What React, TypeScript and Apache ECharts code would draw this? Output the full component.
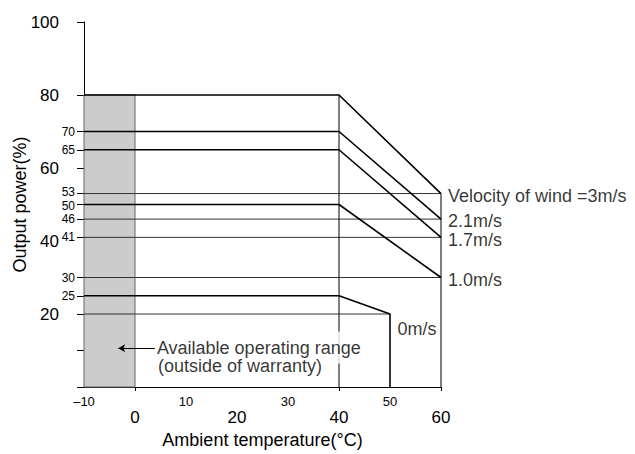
import React, { useEffect, useRef } from "react";
import * as echarts from "echarts";

// ---- data ----
const windLabels = ["Velocity of wind =3m/s", "2.1m/s", "1.7m/s", "1.0m/s", "0m/s"];
const flatPower = [80, 70, 65, 50, 25]; // output held up to the knee temperature
const endPower = [53, 46, 41, 30, 20]; // output at the end temperature
const endTemp = [60, 60, 60, 60, 50];
const kneeTemp = 40;
const minTemp = -10;
const warrantyStart = 0;
const zeroWindDrop = 0; // 0m/s curve falls to 0 at its end temperature

const yBigLabels = [100, 80, 60, 40, 20];
const ySmallLabels = [70, 65, 53, 50, 46, 41, 30, 25];
const yTicks = [100, 80, 70, 65, 60, 53, 50, 46, 41, 30, 25, 20, 10, 0];
const xBigLabels = [0, 20, 40, 60];
const xSmallLabels = [-10, 10, 30, 50];
const xTicks = [0, 40, 60];

const annotationLine1 = "Available operating range";
const annotationLine2 = "(outside of warranty)";
const annotationPos1: [number, number] = [3.9, 10.8];
const annotationPos2: [number, number] = [4.5, 5.8];
const arrowFrom: [number, number] = [3.9, 10.6];
const arrowTo: [number, number] = [-3.3, 10.6];
const zeroLabelPos: [number, number] = [55.3, 16.0];

const FONT = "'Liberation Sans', Arial, Helvetica, sans-serif";

export default function App() {
  const ref = useRef<HTMLDivElement>(null);

  useEffect(() => {
    if (!ref.current) return;
    const chart = echarts.init(ref.current, undefined, { renderer: "svg" });

    const black = "#000";
    const lineSeries: any[] = [];

    // grey band (outside of warranty)
    lineSeries.push({
      type: "line",
      data: [],
      z: 1,
      silent: true,
      markArea: {
        silent: true,
        itemStyle: { color: "#cccccc", borderColor: "#666", borderWidth: 1 },
        data: [[{ coord: [minTemp, 0] }, { coord: [warrantyStart, flatPower[0]] }]],
      },
    });

    // thin horizontal reference lines at end levels
    endPower.forEach((p, i) => {
      lineSeries.push({
        type: "line",
        z: 2,
        silent: true,
        showSymbol: false,
        symbol: "none",
        lineStyle: { color: "#333", width: 1 },
        data: [
          [minTemp, p],
          [endTemp[i], p],
        ],
      });
    });

    // vertical reference lines
    lineSeries.push({
      type: "line",
      z: 2,
      silent: true,
      symbol: "none",
      lineStyle: { color: black, width: 1 },
      data: [
        [kneeTemp, 0],
        [kneeTemp, flatPower[0]],
      ],
    });
    lineSeries.push({
      type: "line",
      z: 2,
      silent: true,
      symbol: "none",
      lineStyle: { color: black, width: 1 },
      data: [
        [endTemp[0], 0],
        [endTemp[0], endPower[0]],
      ],
    });

    // derating curves
    flatPower.forEach((p, i) => {
      const pts: number[][] = [
        [minTemp, p],
        [kneeTemp, p],
        [endTemp[i], endPower[i]],
      ];
      if (i === flatPower.length - 1) pts.push([endTemp[i], zeroWindDrop]);
      lineSeries.push({
        type: "line",
        name: windLabels[i],
        z: 3,
        silent: true,
        symbol: "none",
        lineStyle: { color: black, width: 1.6 },
        data: pts,
      });
    });

    // arrow
    lineSeries.push({
      type: "line",
      data: [],
      z: 4,
      silent: true,
      markLine: {
        silent: true,
        symbol: ["none", "arrow"],
        symbolSize: [6, 7],
        lineStyle: { color: black, width: 1, type: "solid" },
        label: { show: false },
        data: [[{ coord: arrowFrom }, { coord: arrowTo }]],
      },
    });

    const textStyleBase = { color: black, fontFamily: FONT, fontSize: 18 };

    // text labels anchored at data coordinates
    const labelData: any[] = [];
    for (let i = 0; i < 4; i++) {
      labelData.push({
        value: [endTemp[i], endPower[i]],
        label: {
          show: true,
          position: "right",
          distance: 7,
          offset: [0, i === 2 ? 3 : 2],
          formatter: windLabels[i],
          ...textStyleBase,
        },
      });
    }
    labelData.push({
      value: zeroLabelPos,
      label: { show: true, position: "inside", formatter: windLabels[4], ...textStyleBase },
    });
    labelData.push({
      value: annotationPos1,
      label: {
        show: true,
        position: "right",
        distance: 0,
        formatter: annotationLine1,
        backgroundColor: "#fff",
        padding: [10, 2, 4, 2],
        ...textStyleBase,
      },
    });
    labelData.push({
      value: annotationPos2,
      label: { show: true, position: "right", distance: 0, formatter: annotationLine2, ...textStyleBase },
    });

    lineSeries.push({
      type: "scatter",
      z: 10,
      silent: true,
      symbolSize: 0,
      itemStyle: { color: "transparent" },
      data: labelData,
    });

    const axisLineStyle = { color: black, width: 1 };

    chart.setOption({
      animation: false,
      backgroundColor: "#fff",
      textStyle: { fontFamily: FONT },
      grid: { left: 84, right: 194, top: 22, bottom: 61 },
      xAxis: [
        {
          type: "value",
          min: minTemp,
          max: 60,
          position: "bottom",
          axisLine: { show: true, onZero: false, lineStyle: axisLineStyle },
          axisTick: { show: true, customValues: xTicks, length: 4, lineStyle: axisLineStyle },
          axisLabel: {
            customValues: xSmallLabels,
            formatter: (v: number) => (v < 0 ? "\u2013" + Math.abs(v) : String(v)),
            fontSize: 13,
            margin: 8,
            color: black,
            fontFamily: FONT,
          },
          splitLine: { show: false },
          name: "Ambient temperature(\u00B0C)",
          nameLocation: "middle",
          nameGap: 44,
          nameTextStyle: { fontSize: 18, color: black, fontFamily: FONT },
        },
        {
          type: "value",
          min: minTemp,
          max: 60,
          position: "bottom",
          axisLine: { show: false, onZero: false },
          axisTick: { show: false },
          axisLabel: { customValues: xBigLabels, fontSize: 17, margin: 22, color: black, fontFamily: FONT },
          splitLine: { show: false },
        },
      ],
      yAxis: [
        {
          type: "value",
          min: 0,
          max: 100,
          position: "left",
          axisLine: { show: true, onZero: false, lineStyle: axisLineStyle },
          axisTick: { show: true, customValues: yTicks, length: 7, lineStyle: axisLineStyle },
          axisLabel: {
            customValues: ySmallLabels,
            formatter: (v: number) => (v === 53 ? "{up|53}" : v === 50 ? "{down|50}" : "{n|" + v + "}"),
            rich: {
              up: { fontSize: 12, lineHeight: 12, padding: [0, 0, 4, 0], color: black, fontFamily: FONT },
              down: { fontSize: 12, lineHeight: 12, padding: [2, 0, 0, 0], color: black, fontFamily: FONT },
              n: { fontSize: 12, lineHeight: 12, color: black, fontFamily: FONT },
            },
            fontSize: 12,
            margin: 9,
            color: black,
            fontFamily: FONT,
          },
          splitLine: { show: false },
          name: "Output power(%)",
          nameLocation: "middle",
          nameGap: 55,
          nameTextStyle: { fontSize: 18, color: black, fontFamily: FONT },
        },
        {
          type: "value",
          min: 0,
          max: 100,
          position: "left",
          axisLine: { show: false, onZero: false },
          axisTick: { show: false },
          axisLabel: { customValues: yBigLabels, fontSize: 17, margin: 25, color: black, fontFamily: FONT },
          splitLine: { show: false },
        },
      ],
      series: lineSeries,
    });

    return () => chart.dispose();
  }, []);

  return (
    <div
      ref={ref}
      style={{ position: "fixed", left: 0, top: 0, width: 635, height: 454, background: "#fff" }}
    />
  );
}
